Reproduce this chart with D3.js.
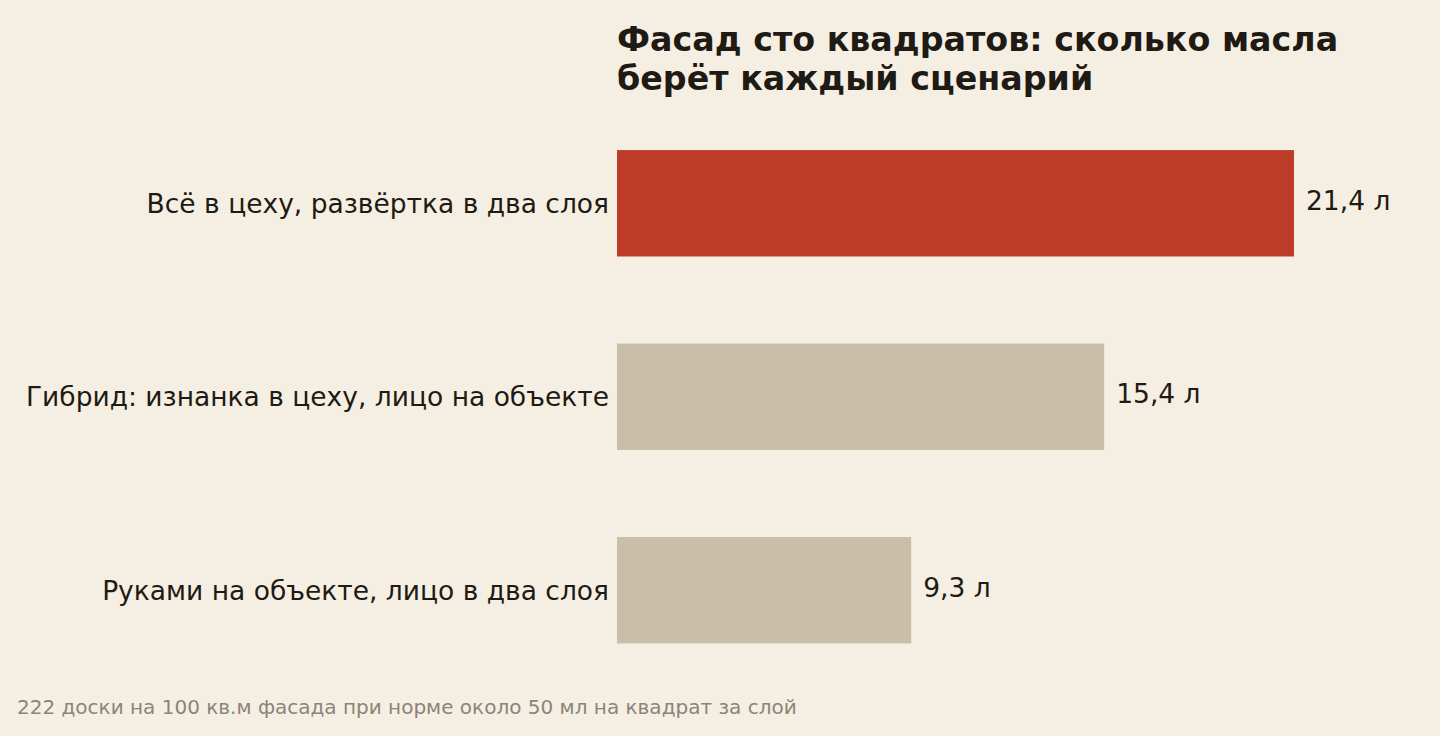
<!DOCTYPE html>
<html>
<head>
<meta charset="utf-8">
<script src="https://cdn.jsdelivr.net/npm/d3@7"></script>
<style>
  body { margin: 0; background: #f5efe3; }
  svg { display: block; font-family: "DejaVu Sans", sans-serif; }
</style>
</head>
<body>
<script>
// данные
var scenarios = ["Всё в цеху, развёртка в два слоя", "Гибрид: изнанка в цеху, лицо на объекте", "Руками на объекте, лицо в два слоя"];
var litres = [21.4, 15.4, 9.3];
var highlight = [true, false, false];
var titleLines = ["Фасад сто квадратов: сколько масла", "берёт каждый сценарий"];
var footnote = "222 доски на 100 кв.м фасада при норме около 50 мл на квадрат за слой";

var width = 1440;
var height = 736;
var svg = d3.select("body").append("svg")
	.attr("width", width)
	.attr("height", height);

svg.append("rect").attr("width", width).attr("height", height).attr("fill", "#f5efe3");

var x = d3.scaleLinear().domain([0, 21.4]).range([617, 1294]);
var y = d3.scaleBand().domain(scenarios).range([63, 730.5]).padding(0.45);

var rows = scenarios.map((s, i) => ({name: s, value: litres[i], hi: highlight[i]}));

// заголовок
svg.append("text")
	.attr("x", 617).attr("y", 51)
	.attr("font-size", 33.3).attr("font-weight", "bold").attr("fill", "#1f1a13")
	.selectAll("tspan").data(titleLines).enter().append("tspan")
	.attr("x", 617).attr("dy", (d, i) => i ? 39 : 0)
	.text(d => d);

// столбики
svg.selectAll(".bar").data(rows).enter().append("rect")
	.attr("class", "bar")
	.attr("x", x(0))
	.attr("y", d => y(d.name))
	.attr("width", d => x(d.value) - x(0))
	.attr("height", y.bandwidth())
	.attr("fill", d => d.hi ? "#bc3c27" : "#c9bea7");

// подписи категорий
svg.selectAll(".cat").data(rows).enter().append("text")
	.attr("class", "cat")
	.attr("x", 609)
	.attr("y", d => y(d.name) + y.bandwidth() / 2 + 2)
	.attr("text-anchor", "end")
	.attr("dominant-baseline", "middle")
	.attr("font-size", 26.5).attr("fill", "#1f1a13")
	.text(d => d.name);

// значения
svg.selectAll(".val").data(rows).enter().append("text")
	.attr("class", "val")
	.attr("x", d => x(d.value) + 12)
	.attr("y", d => y(d.name) + y.bandwidth() / 2 - 1)
	.attr("dominant-baseline", "middle")
	.attr("font-size", 26.5).attr("fill", "#1f1a13")
	.text(d => String(d.value).replace(".", ",") + " л");

// сноска
svg.append("text")
	.attr("x", 17).attr("y", 714)
	.attr("font-size", 20).attr("fill", "#8a8479")
	.text(footnote);
</script>
</body>
</html>
